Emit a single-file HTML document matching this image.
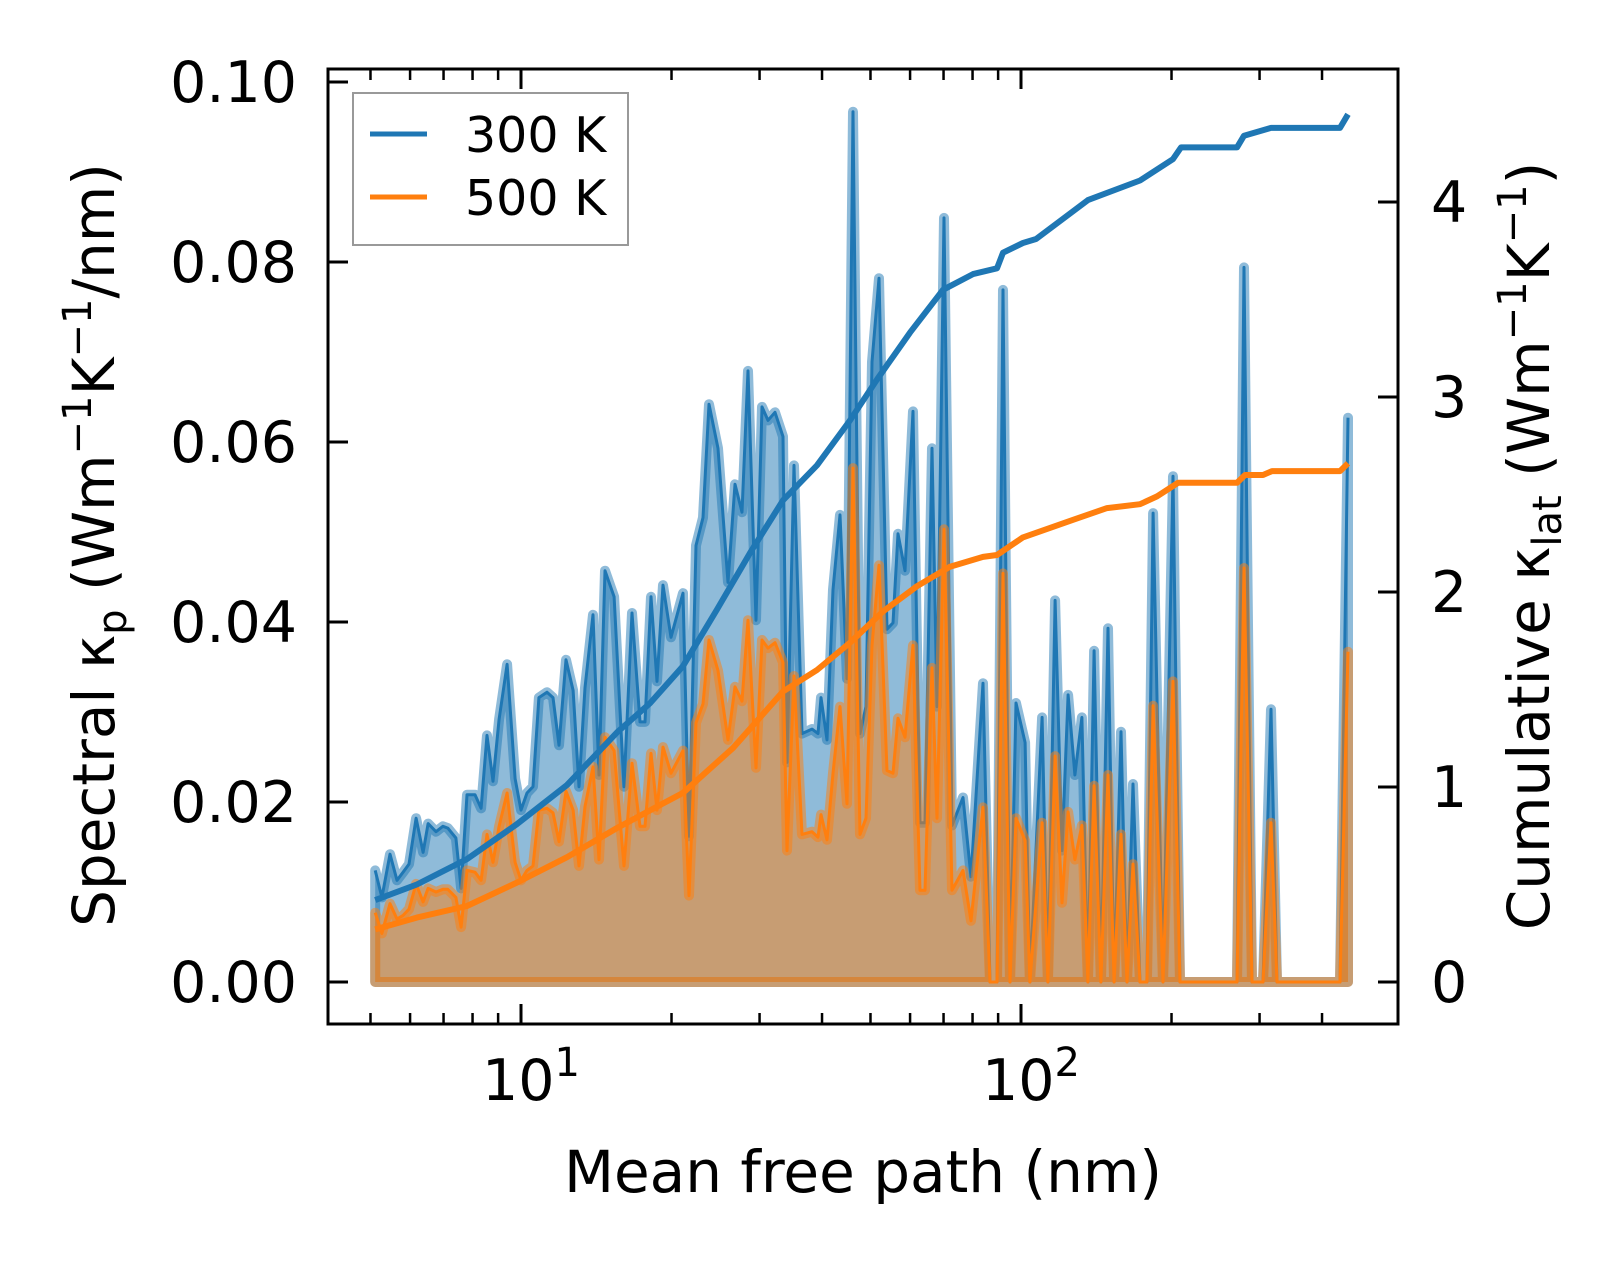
<!DOCTYPE html>
<html><head><meta charset="utf-8"><style>
html,body{margin:0;padding:0;background:#fff;}
svg{display:block;font-family:"DejaVu Sans","Liberation Sans",sans-serif;}
</style></head><body>
<svg id="chart" width="1623" height="1263" viewBox="0 0 1623 1263" xmlns="http://www.w3.org/2000/svg">
<rect x="0" y="0" width="1623" height="1263" fill="#fff"/>
<g id="plot"></g>
<g id="axes"></g>
</svg>
<script>
// Spectral data (mean free path in nm)
const mfp = [5.11,5.27,5.47,5.65,5.81,5.97,6.17,6.37,6.52,6.76,6.98,7.14,7.41,7.59,7.80,8.09,8.32,8.55,8.79,9.04,9.38,9.73,10.0,10.28,10.57,10.86,11.27,11.59,11.91,12.30,12.71,13.06,13.43,13.93,14.32,14.72,15.35,16.07,16.67,17.30,17.70,18.20,18.71,19.23,19.95,21.09,21.68,
22.39,23.12,23.77,24.77,25.94,26.79,27.67,28.44,29.51,30.34,31.19,32.21,33.42,34.04,35.16,36.48,38.19,39.26,39.81,40.93,42.07,43.45,44.87,46.13,47.64,48.98,50.35,52.00,53.95,55.46,56.75,58.61,60.81,62.81,64.27,66.37,67.92,70.15,72.78,76.56,79.43,83.95,86.70,
89.54,92.04,95.06,97.72,101.9,104.2,110.2,113.2,117.0,120.8,124.2,128.2,132.4,136.1,140.0,144.5,149.3,153.5,158.5,162.9,167.5,173.0,178.6,183.7,192.3,201.4,208.0,270.4,279.3,289.7,304.8,316.2,325.1,434.5,450.8];
const spec300 = [.0124,.0094,.0142,.0113,.0122,.0131,.0182,.0144,.0176,.0167,.0173,.0171,.016,.0104,.0208,.0208,.0193,.0274,.0223,.0292,.0353,.0226,.0191,.021,.0217,.0316,.0322,.0316,.0263,.0358,.0324,.0217,.0327,.0408,.023,.0457,.0428,.0217,.041,.0289,.0289,.0428,.0334,.0441,.0383,.0432,.0162,
.0485,.0516,.0642,.0593,.0444,.0553,.0522,.0679,.0402,.0639,.0624,.0633,.0606,.0244,.0574,.0276,.0281,.0276,.0316,.0269,.0436,.0519,.0337,.0967,.0276,.0306,.0689,.0782,.0392,.0399,.0498,.0457,.0634,.0177,.0177,.0593,.0306,.0849,.0174,.0205,.0117,.0332,0,
0,.0769,0,.031,.0266,0,.0294,0,.0424,.0146,.0319,.023,.0294,0,.0368,0,.0393,0,.0278,0,.022,0,0,.0521,0,.0562,0,0,.0794,0,0,.0303,0,0,.0627];
const spec500 = [.0077,.0054,.0087,.007,.0074,.0081,.0109,.0089,.0104,.01,.0103,.0103,.0094,.0061,.0124,.0122,.0113,.0164,.0133,.0173,.021,.0133,.0113,.0124,.0129,.0191,.0193,.0188,.0156,.0212,.0191,.0129,.0195,.0239,.0136,.0272,.0257,.0129,.0243,.0173,.0173,.0254,.0191,.0261,.0232,.0257,.0096,
.0288,.0309,.038,.0346,.0269,.0328,.0312,.0402,.0238,.038,.0371,.0377,.0355,.0146,.034,.0164,.0167,.0161,.0186,.0158,.0232,.0306,.0198,.0571,.0164,.0182,.0374,.0463,.0235,.0232,.0293,.0272,.0374,.0102,.0102,.0349,.0182,.0503,.0102,.0124,.0068,.0194,0,
0,.0454,0,.0182,.0157,0,.0177,0,.0251,.0088,.0189,.0136,.0174,0,.0218,0,.023,0,.0164,0,.0131,0,0,.0307,0,.0334,0,0,.046,0,0,.0177,0,0,.0367];
// Cumulative data
const cumMfp300 = [5.11,6.19,7.80,9.82,12.36,15.56,18.11,21.09,24.66,28.71,33.42,39.08,45.50,51.52,59.98,69.82,80.17,89.54,92.04,100.9,107.2,136.1,173.0,201.4,208.9,270.4,279.3,316.2,434.5,450.8];
const cum300 = [.42,.50,.63,.81,1.01,1.28,1.43,1.62,1.91,2.2,2.47,2.65,2.88,3.09,3.33,3.55,3.63,3.66,3.74,3.79,3.81,4.01,4.11,4.22,4.28,4.28,4.34,4.38,4.38,4.45];
const cumMfp500 = [5.11,6.19,7.80,9.82,12.36,15.56,18.11,21.09,26.55,33.42,39.08,45.50,52.97,61.94,72.11,83.95,89.54,100.9,127.1,148.6,173.0,187.1,206.1,270.4,280.5,304.8,317.7,434.5,450.8];
const cum500 = [.27,.33,.39,.51,.64,.79,.88,.97,1.2,1.49,1.6,1.74,1.9,2.03,2.13,2.18,2.19,2.28,2.37,2.43,2.45,2.49,2.56,2.56,2.6,2.6,2.62,2.62,2.66];
// Tick labels
const leftTicks = [0,0.02,0.04,0.06,0.08,0.10];
const leftTickLabels = ["0.00","0.02","0.04","0.06","0.08","0.10"];
const rightTicks = [0,1,2,3,4];
const rightTickLabels = ["0","1","2","3","4"];
const xMajor = [10,100];
const xMajorExp = ["1","2"];
const xMinor = [5,6,7,8,9,20,30,40,50,60,70,80,90,200,300,400];

const NS="http://www.w3.org/2000/svg";
const L=328,R=1398,T=69,B=1024;
function xS(m){return 521+500*(Math.log10(m)-1);}
function yL(v){return 982-v*9000;}
function yR(v){return 982-v*195;}
function mk(tag,attrs,parent){const e=document.createElementNS(NS,tag);for(const k in attrs)e.setAttribute(k,attrs[k]);parent.appendChild(e);return e;}
const plot=document.getElementById('plot'), axes=document.getElementById('axes');

function spectral(vals,color,nm){
  const n=Math.min(mfp.length,vals.length);
  let pts=[];for(let i=0;i<n;i++)pts.push(xS(mfp[i]).toFixed(1)+','+yL(vals[i]).toFixed(1));
  const poly=pts.join(' ')+' '+xS(mfp[n-1]).toFixed(1)+','+yL(0)+' '+xS(mfp[0]).toFixed(1)+','+yL(0);
  const f=mk('polygon',{points:poly,fill:color,'fill-opacity':0.5,stroke:color,'stroke-opacity':0.5,'stroke-width':10,'stroke-linejoin':'round'},plot);
  
  
  const l=mk('polyline',{points:pts.join(' '),fill:'none',stroke:color,'stroke-width':3,'stroke-linejoin':'round'},plot);
  
  
}
spectral(spec300,'#1f77b4','k300');
spectral(spec500,'#ff7f0e','k500');
function cum(ms,vals,color,nm){
  const n=Math.min(ms.length,vals.length);let pts=[];
  for(let i=0;i<n;i++)pts.push(xS(ms[i]).toFixed(1)+','+yR(vals[i]).toFixed(1));
  const l=mk('polyline',{points:pts.join(' '),fill:'none',stroke:color,'stroke-width':6,'stroke-linejoin':'round'},plot);
  
  
}
cum(cumMfp300,cum300,'#1f77b4','cumulative-300k-line');
cum(cumMfp500,cum500,'#ff7f0e','cumulative-500k-line');

// frame
const fr=mk('rect',{x:L,y:T,width:R-L,height:B-T,fill:'none',stroke:'#000','stroke-width':3},axes);


leftTicks.forEach((v,i)=>{
  const y=yL(v);
  const t=mk('line',{x1:L,x2:L+20,y1:y,y2:y,stroke:'#000','stroke-width':3},axes);
  
  
  const tx=mk('text',{x:297,y:y+20,'text-anchor':'end','font-size':57,fill:'#000'},axes);
  tx.textContent=leftTickLabels[i];
  
  
});
rightTicks.forEach((v,i)=>{
  const y=yR(v);
  const t=mk('line',{x1:R-20,x2:R,y1:y,y2:y,stroke:'#000','stroke-width':3},axes);
  
  
  const tx=mk('text',{x:1431,y:y+20,'text-anchor':'start','font-size':57,fill:'#000'},axes);
  tx.textContent=rightTickLabels[i];
  
  
});
xMajor.forEach((m,i)=>{
  const x=xS(m);
  [[B,B-20],[T,T+20]].forEach(p=>{
    const t=mk('line',{x1:x,x2:x,y1:p[0],y2:p[1],stroke:'#000','stroke-width':3},axes);
    
    
  });
  const tx=mk('text',{x:x+10,y:1100,'text-anchor':'middle','font-size':57,fill:'#000'},axes);
  tx.innerHTML='10<tspan dy="-24" font-size="40">'+xMajorExp[i]+'</tspan>';
  
  
});
xMinor.forEach(m=>{
  const x=xS(m);
  [[B,B-11],[T,T+11]].forEach(p=>{
    const t=mk('line',{x1:x,x2:x,y1:p[0],y2:p[1],stroke:'#000','stroke-width':2.5},axes);
    
    
  });
});
</script>
<svg style="position:absolute;left:0;top:0" width="1623" height="1263" viewBox="0 0 1623 1263" xmlns="http://www.w3.org/2000/svg" font-family="DejaVu Sans, Liberation Sans, sans-serif">
<text x="863" y="1192" text-anchor="middle" font-size="58">Mean free path (nm)</text>
<text transform="translate(114,545) rotate(-90)" text-anchor="middle" font-size="58">Spectral κ<tspan dy="12" font-size="40">p</tspan><tspan dy="-12"> (Wm</tspan><tspan dy="-23" font-size="40">−1</tspan><tspan dy="23">K</tspan><tspan dy="-23" font-size="40">−1</tspan><tspan dy="23">/nm)</tspan></text>
<text transform="translate(1549,546) rotate(-90)" text-anchor="middle" font-size="58">Cumulative κ<tspan dy="12" font-size="40">lat</tspan><tspan dy="-12"> (Wm</tspan><tspan dy="-23" font-size="40">−1</tspan><tspan dy="23">K</tspan><tspan dy="-23" font-size="40">−1</tspan><tspan dy="23">)</tspan></text>
<g>
<rect x="353" y="93" width="275" height="152" fill="#fff" fill-opacity="0.8" stroke="#999" stroke-width="2"/>
<line x1="370" x2="427" y1="134" y2="134" stroke="#1f77b4" stroke-width="5"/>
<text x="465" y="152" font-size="49">300 K</text>
<line x1="370" x2="427" y1="197" y2="197" stroke="#ff7f0e" stroke-width="5"/>
<text x="465" y="215" font-size="49">500 K</text>
</g>
</svg>
</body></html>
